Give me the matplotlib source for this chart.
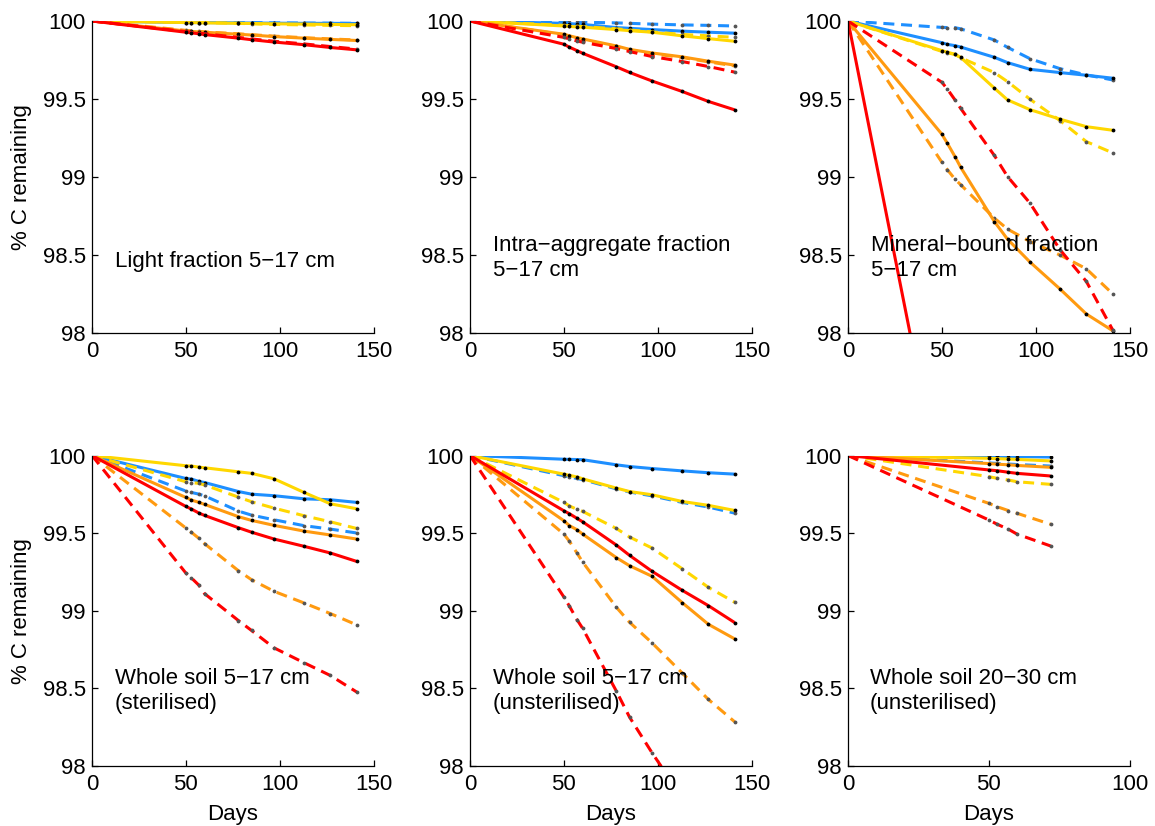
import matplotlib
matplotlib.use('Agg')
import matplotlib.pyplot as plt
import matplotlib.transforms as mtransforms

plt.rcParams['font.family'] = ['Liberation Sans', 'DejaVu Sans']
plt.rcParams['font.size'] = 16

BLUE = '#1E8FFF'
YELLOW = '#FFD700'
ORANGE = '#FF9A10'
RED = '#FF0000'

# sampling days
days = [0, 50, 53, 57, 60, 78, 85, 97, 113, 127, 141]
days_deep = [0, 50, 53, 57, 60, 72]

# --- Light fraction 5-17 cm ---
light_blue_s = [100, 99.99, 99.99, 99.99, 99.99, 99.988, 99.987, 99.986, 99.985, 99.985, 99.984]
light_blue_d = [100, 99.995, 99.995, 99.994, 99.994, 99.99, 99.99, 99.988, 99.987, 99.986, 99.985]
light_yel_s = [100, 99.99, 99.99, 99.989, 99.988, 99.985, 99.984, 99.982, 99.98, 99.978, 99.976]
light_yel_d = [100, 99.992, 99.991, 99.99, 99.99, 99.985, 99.982, 99.978, 99.975, 99.972, 99.97]
light_org_s = [100, 99.936, 99.933, 99.93, 99.928, 99.915, 99.91, 99.9, 99.89, 99.882, 99.875]
light_org_d = [100, 99.94, 99.937, 99.933, 99.93, 99.918, 99.912, 99.903, 99.893, 99.885, 99.878]
light_red_s = [100, 99.928, 99.924, 99.918, 99.913, 99.89, 99.88, 99.865, 99.848, 99.83, 99.815]
light_red_d = [100, 99.932, 99.928, 99.922, 99.918, 99.895, 99.885, 99.87, 99.853, 99.836, 99.82]

# --- Intra-aggregate fraction 5-17 cm ---
intra_blue_s = [100, 99.985, 99.983, 99.98, 99.978, 99.958, 99.953, 99.945, 99.935, 99.928, 99.922]
intra_blue_d = [100, 99.995, 99.994, 99.993, 99.992, 99.988, 99.985, 99.98, 99.975, 99.972, 99.968]
intra_yel_s = [100, 99.968, 99.965, 99.962, 99.96, 99.945, 99.938, 99.928, 99.905, 99.887, 99.87]
intra_yel_d = [100, 99.972, 99.97, 99.967, 99.964, 99.95, 99.942, 99.93, 99.914, 99.905, 99.895]
intra_org_s = [100, 99.915, 99.905, 99.893, 99.885, 99.84, 99.818, 99.795, 99.77, 99.742, 99.717]
intra_org_d = [100, 99.912, 99.902, 99.89, 99.88, 99.837, 99.814, 99.79, 99.766, 99.738, 99.712]
intra_red_s = [100, 99.851, 99.832, 99.81, 99.793, 99.706, 99.67, 99.615, 99.548, 99.484, 99.43]
intra_red_d = [100, 99.895, 99.885, 99.872, 99.864, 99.823, 99.804, 99.772, 99.74, 99.708, 99.672]

# --- Mineral-bound fraction 5-17 cm ---
min_blue_s = [100, 99.861, 99.85, 99.842, 99.833, 99.767, 99.733, 99.69, 99.669, 99.652, 99.633]
min_blue_d = [100, 99.959, 99.958, 99.957, 99.95, 99.878, 99.831, 99.758, 99.694, 99.654, 99.622]
min_yel_s = [100, 99.81, 99.80, 99.786, 99.767, 99.569, 99.494, 99.431, 99.37, 99.322, 99.299]
min_yel_d = [100, 99.805, 99.795, 99.786, 99.765, 99.669, 99.611, 99.498, 99.361, 99.226, 99.154]
min_org_s = [100, 99.274, 99.214, 99.13, 99.062, 98.713, 98.6, 98.453, 98.28, 98.12, 98.013]
min_org_d = [100, 99.094, 99.045, 98.985, 98.95, 98.735, 98.665, 98.585, 98.498, 98.41, 98.25]
min_red_s = [100, 96.97, 96.79, 96.55, 96.36, 95.27, 94.85, 94.12, 93.15, 92.3, 91.45]
min_red_d = [100, 99.607, 99.562, 99.494, 99.44, 99.137, 99.002, 98.831, 98.532, 98.329, 98.019]

# --- Whole soil 5-17 cm (sterilised) ---
ster_blue_s = [100, 99.852, 99.848, 99.833, 99.826, 99.768, 99.751, 99.741, 99.721, 99.715, 99.698]
ster_blue_d = [100, 99.771, 99.762, 99.751, 99.74, 99.642, 99.616, 99.586, 99.548, 99.526, 99.501]
ster_yel_s = [100, 99.934, 99.932, 99.925, 99.921, 99.895, 99.885, 99.85, 99.762, 99.689, 99.657]
ster_yel_d = [100, 99.831, 99.826, 99.82, 99.81, 99.732, 99.702, 99.661, 99.612, 99.573, 99.53]
ster_org_s = [100, 99.73, 99.713, 99.698, 99.685, 99.606, 99.582, 99.55, 99.513, 99.488, 99.462]
ster_org_d = [100, 99.533, 99.505, 99.466, 99.432, 99.258, 99.2, 99.125, 99.05, 98.982, 98.909]
ster_red_s = [100, 99.672, 99.655, 99.629, 99.614, 99.535, 99.506, 99.462, 99.415, 99.372, 99.318]
ster_red_d = [100, 99.243, 99.211, 99.164, 99.11, 98.937, 98.873, 98.761, 98.665, 98.583, 98.477]

# --- Whole soil 5-17 cm (unsterilised) ---
uns_blue_s = [100, 99.976, 99.975, 99.974, 99.973, 99.94, 99.929, 99.916, 99.901, 99.889, 99.88]
uns_blue_d = [100, 99.87, 99.862, 99.852, 99.845, 99.785, 99.765, 99.74, 99.698, 99.668, 99.629]
uns_yel_s = [100, 99.88, 99.872, 99.862, 99.85, 99.79, 99.768, 99.747, 99.704, 99.679, 99.646]
uns_yel_d = [100, 99.698, 99.675, 99.653, 99.64, 99.53, 99.475, 99.404, 99.271, 99.151, 99.055]
uns_org_s = [100, 99.58, 99.548, 99.522, 99.494, 99.342, 99.29, 99.222, 99.053, 98.913, 98.819]
uns_org_d = [100, 99.494, 99.447, 99.372, 99.314, 99.022, 98.926, 98.793, 98.6, 98.429, 98.285]
uns_red_s = [100, 99.644, 99.625, 99.595, 99.573, 99.423, 99.357, 99.254, 99.132, 99.033, 98.924]
uns_red_d = [100, 99.089, 99.029, 98.943, 98.887, 98.482, 98.315, 98.085, 97.8, 97.5, 97.2]

# --- Whole soil 20-30 cm (unsterilised) ---
deep_blue_s = [100, 99.994, 99.994, 99.993, 99.993, 99.99]
deep_blue_d = [100, 99.952, 99.949, 99.945, 99.942, 99.932]
deep_yel_s = [100, 99.982, 99.98, 99.977, 99.975, 99.965]
deep_yel_d = [100, 99.864, 99.853, 99.842, 99.831, 99.814]
deep_org_s = [100, 99.948, 99.944, 99.94, 99.936, 99.924]
deep_org_d = [100, 99.692, 99.67, 99.645, 99.628, 99.557]
deep_red_s = [100, 99.907, 99.902, 99.892, 99.885, 99.868]
deep_red_d = [100, 99.585, 99.557, 99.525, 99.494, 99.417]

panels = [
    ('Light fraction 5\u221217 cm', days, 150,
     [light_blue_s, light_yel_s, light_org_s, light_red_s],
     [light_blue_d, light_yel_d, light_org_d, light_red_d]),
    ('Intra\u2212aggregate fraction\n5\u221217 cm', days, 150,
     [intra_blue_s, intra_yel_s, intra_org_s, intra_red_s],
     [intra_blue_d, intra_yel_d, intra_org_d, intra_red_d]),
    ('Mineral\u2212bound fraction\n5\u221217 cm', days, 150,
     [min_blue_s, min_yel_s, min_org_s, min_red_s],
     [min_blue_d, min_yel_d, min_org_d, min_red_d]),
    ('Whole soil 5\u221217 cm\n(sterilised)', days, 150,
     [ster_blue_s, ster_yel_s, ster_org_s, ster_red_s],
     [ster_blue_d, ster_yel_d, ster_org_d, ster_red_d]),
    ('Whole soil 5\u221217 cm\n(unsterilised)', days, 150,
     [uns_blue_s, uns_yel_s, uns_org_s, uns_red_s],
     [uns_blue_d, uns_yel_d, uns_org_d, uns_red_d]),
    ('Whole soil 20\u221230 cm\n(unsterilised)', days_deep, 100,
     [deep_blue_s, deep_yel_s, deep_org_s, deep_red_s],
     [deep_blue_d, deep_yel_d, deep_org_d, deep_red_d]),
]

colors = [BLUE, YELLOW, ORANGE, RED]

fig = plt.figure(figsize=(11.55, 8.26), dpi=100)
lefts = [92/1155, 470/1155, 848/1155]
w = 281.5/1155
rows = [(1 - 332.7/826, 311.7/826), (1 - 766/826, 310.5/826)]
# top of the panel label, in axes fraction
label_tops = [(332.7 - 250.5)/311.7, (332.7 - 235.3)/311.7, (332.7 - 235.3)/311.7,
              (766 - 668.3)/310.5, (766 - 668.3)/310.5, (766 - 668.3)/310.5]

for i, (label, t, xmax, solids, dashes) in enumerate(panels):
    r, c = divmod(i, 3)
    ax = fig.add_axes([lefts[c], rows[r][0], w, rows[r][1]])
    for col, ys, yd in zip(colors, solids, dashes):
        ax.plot(t, yd, color=col, lw=2.2, linestyle=(0, (3.6, 2.2)),
                marker='.', ms=3.5, mfc='#555555', mec='#555555',
                markevery=slice(1, None))
        ax.plot(t, ys, color=col, lw=2.2, solid_capstyle='butt',
                marker='.', ms=3.5, mfc='black', mec='black',
                markevery=slice(1, None))
    ax.set_xlim(0, xmax)
    ax.set_ylim(98, 100)
    ax.set_yticks([98, 98.5, 99, 99.5, 100])
    ax.set_yticklabels(['98', '98.5', '99', '99.5', '100'])
    if xmax == 150:
        ax.set_xticks([0, 50, 100, 150])
    else:
        ax.set_xticks([0, 50, 100])
    for s in ['top', 'right']:
        ax.spines[s].set_visible(False)
    for s in ['left', 'bottom']:
        ax.spines[s].set_linewidth(0.9)
    ax.tick_params(direction='in', length=4, width=0.9, labelsize=16)
    ax.tick_params(axis='y', pad=4.5)
    ax.tick_params(axis='x', pad=6)

    tx = 12.2 if xmax == 150 else 7.8
    trans = mtransforms.blended_transform_factory(ax.transData, ax.transAxes)
    ax.text(tx, label_tops[i], label, ha='left', va='top', fontsize=16,
            linespacing=1.2, transform=trans)
    if c == 0:
        ax.set_ylabel('% C remaining', fontsize=16)
        ax.yaxis.set_label_coords((31.7 - 92)/281.5, 0.5)
    if r == 1:
        ax.set_xlabel('Days', fontsize=16)
        ax.xaxis.set_label_coords(0.5, -38/310.5)

fig.savefig('out.png', dpi=100, facecolor='white')
